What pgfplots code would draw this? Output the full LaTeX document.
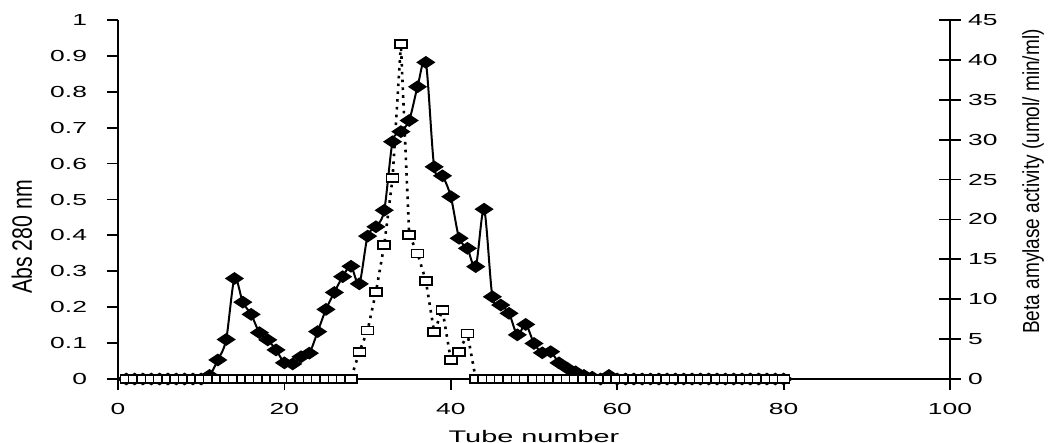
\documentclass[border=0pt]{standalone}
\usepackage{fontspec}
\setmainfont{Liberation Sans}
\newfontfamily\tickfont[FakeStretch=1.65]{Liberation Sans}
\newfontfamily\xlabfont[FakeStretch=1.72]{Liberation Sans}
\newfontfamily\ylabfont[FakeStretch=0.76]{Liberation Sans}
\newfontfamily\ylabfontb[FakeStretch=0.82]{Liberation Sans}
\usepackage{pgfplots}
\usepackage{pgfplotstable}
\pgfplotsset{compat=1.18}

\pgfplotstableread{
tube abs
1 0
2 0
3 0
4 0
5 0
6 0
7 0
8 0
9 0
10 0
11 0.01
12 0.053
13 0.11
14 0.28
15 0.214
16 0.18
17 0.129
18 0.109
19 0.081
20 0.045
21 0.042
22 0.062
23 0.072
24 0.132
25 0.194
26 0.241
27 0.285
28 0.314
29 0.265
30 0.398
31 0.424
32 0.47
33 0.661
34 0.689
35 0.72
36 0.814
37 0.882
38 0.591
39 0.566
40 0.508
41 0.392
42 0.364
43 0.313
44 0.473
45 0.229
46 0.206
47 0.183
48 0.123
49 0.152
50 0.099
51 0.073
52 0.076
53 0.045
54 0.030
55 0.020
56 0.010
57 0.005
58 0.0
59 0.01
60 0
61 0
62 0
63 0
64 0
65 0
66 0
67 0
68 0
69 0
70 0
71 0
72 0
73 0
74 0
75 0
76 0
77 0
78 0
79 0
80 0
}\absdata

\pgfplotstableread{
tube act
1 0
2 0
3 0
4 0
5 0
6 0
7 0
8 0
9 0
10 0
11 0
12 0
13 0
14 0
15 0
16 0
17 0
18 0
19 0
20 0
21 0
22 0
23 0
24 0
25 0
26 0
27 0
28 0
29 3.4
30 6.1
31 10.9
32 16.8
33 25.2
34 42.0
35 18.05
36 15.75
37 12.3
38 5.9
39 8.65
40 2.4
41 3.4
42 5.7
43 0
44 0
45 0
46 0
47 0
48 0
49 0
50 0
51 0
52 0
53 0
54 0
55 0
56 0
57 0
58 0
59 0
60 0
61 0
62 0
63 0
64 0
65 0
66 0
67 0
68 0
69 0
70 0
71 0
72 0
73 0
74 0
75 0
76 0
77 0
78 0
79 0
80 0
}\actdata

\begin{document}
\begin{tikzpicture}
\pgfplotsset{
  common/.style={
    scale only axis, width=416pt, height=179.5pt,
    xmin=0, xmax=100,
    axis line style={-, line width=0.9pt, black},
    tick style={black, line width=0.9pt},
    ticklabel style={font=\tickfont\fontsize{8}{9.6}\selectfont},
    /pgf/number format/assume math mode=true,
    clip=false,
  }
}
\begin{axis}[common, name=ax,
  ymin=0, ymax=1,
  axis x line*=bottom, axis y line*=left,
  xtick={0,20,...,100},
  ytick={0,0.1,0.2,0.3,0.4,0.5,0.6,0.7,0.8,0.9,1},
  yticklabels={0,0.1,0.2,0.3,0.4,0.5,0.6,0.7,0.8,0.9,1},
  tick align=outside, major tick length=5.5pt,
  yticklabel style={xshift=-6.5pt},
  xticklabel style={yshift=-3pt},
]
\addplot[black, line width=1pt, smooth, tension=0.5,
  mark=diamond*, mark size=2.6pt, mark options={xscale=2, solid, fill=black}]
  table[x=tube, y=abs] {\absdata};
\node[font=\xlabfont\fontsize{8.4}{10}\selectfont] at (rel axis cs:0.5,-0.1588) {Tube number};
\node[rotate=90, font=\ylabfont\fontsize{14}{16}\selectfont] at (rel axis cs:-0.1154,0.3955) {Abs 280 nm};
\node[rotate=90, font=\ylabfontb\fontsize{11.6}{13}\selectfont] at (rel axis cs:1.0998,0.550) {Beta amylase activity (umol/ min/ml)};
\end{axis}
\begin{axis}[common,
  ymin=0, ymax=45,
  axis y line*=right, axis x line=none,
  ytick={0,5,...,45},
  tick align=center, major tick length=11pt,
]
\addplot[black, line width=1.3pt, dash pattern=on 1.3pt off 2.6pt,
  mark=square*, mark size=2pt,
  mark options={solid, fill=white, draw=black, line width=0.75pt, xscale=1.5}]
  table[x=tube, y=act] {\actdata};
\end{axis}
\pgfresetboundingbox
\path ([xshift=-59pt,yshift=-32pt]ax.south west) rectangle ([xshift=49pt,yshift=10pt]ax.north east);
\end{tikzpicture}
\end{document}
